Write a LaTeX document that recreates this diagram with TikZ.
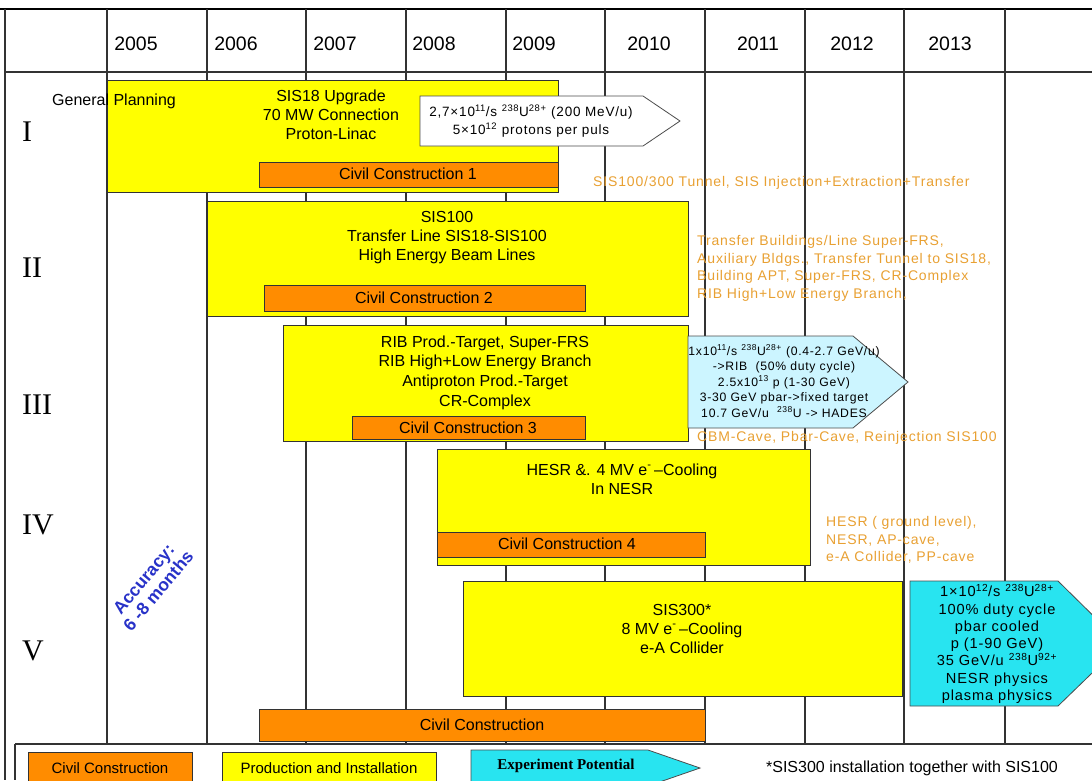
\documentclass[tikz,border=0pt]{standalone}
\usepackage{fontspec}
\setmainfont{Liberation Sans}
\newfontfamily\romanfont{Liberation Serif}
\newfontfamily\trackfont[LetterSpace=6]{Liberation Sans}
\usetikzlibrary{positioning}

\definecolor{barYellow}{RGB}{255,255,0}
\definecolor{barOrange}{RGB}{255,140,0}
\definecolor{noteOrange}{RGB}{232,160,50}
\definecolor{paleCyan}{RGB}{204,245,255}
\definecolor{brightCyan}{RGB}{40,228,240}
\definecolor{accBlue}{RGB}{40,50,200}

\begin{document}
\begin{tikzpicture}[
  x=1pt, y=-1pt,
  gridline/.style = {draw=black!80, line width=1.2pt},
  prodbar/.style = {draw=black!80, fill=barYellow, line width=0.9pt},
  civilbar/.style = {draw=black!80, fill=barOrange, line width=0.9pt},
  potential/.style = {draw=black!70, line width=0.8pt},
  bartext/.style = {font=\fontsize{16}{19}\selectfont, align=center, inner sep=0pt},
  beamtext/.style = {font=\trackfont\fontsize{12.2}{15.5}\selectfont, align=center, inner sep=0pt},
  remark/.style = {font=\trackfont\fontsize{14}{17.7}\selectfont, text=noteOrange, align=left, anchor=west, inner sep=0pt},
  stagenum/.style = {font=\romanfont\fontsize{30}{30}\selectfont, anchor=west, inner sep=0pt},
  yearlbl/.style = {font=\fontsize{19.5}{19.5}\selectfont, inner sep=0pt}
]
\clip (0,0) rectangle (1092,780);

% ======================================================
% Time grid
% ======================================================
\draw[line width=2pt] (0,9) -- (1092,9);
\draw[gridline] (5,9) -- (5,780);
\draw[gridline] (5,72) -- (1092,72);
\foreach \x in {107,207,306,406,506,605,705,805,904,1005}
  \draw[gridline] (\x,9) -- (\x,744);
\draw[gridline] (15,744) -- (1092,744);
\draw[gridline] (15,744) -- (15,780);

\foreach \yr/\x in {2005/136,2006/236,2007/335,2008/434,2009/534,2010/649,2011/758,2012/852,2013/950}
  \node[yearlbl] (year\yr) at (\x,44) {\yr};

% stage numbers
\node[stagenum] (stageI) at (22,132) {I};
\node[stagenum] (stageII) at (22,268) {II};
\node[stagenum] (stageIII) at (22,405) {III};
\node[stagenum] (stageIV) at (22,525) {IV};
\node[stagenum] (stageV) at (22,651) {V};

% ======================================================
% Stage I
% ======================================================
\draw[prodbar] (107,80) rectangle (558,192);
\draw[civilbar] (259,162) rectangle (558,187);
\node[bartext] (cc1) at (408,174) {Civil Construction 1};
\node[bartext] (sis18) at (331,115) {SIS18 Upgrade\\70 MW Connection\\Proton-Linac};
\node[bartext, anchor=west] (planning) at (52,101) {General Planning};

\draw[potential, fill=white] (420,96) -- (643,96) -- (680,121) -- (643,146) -- (420,146) -- cycle;
\node[bartext, font=\trackfont\fontsize{13.5}{18}\selectfont] (beamI) at (531,121)
  {2,7×10\textsuperscript{11}/s \textsuperscript{238}U\textsuperscript{28+} (200 MeV/u)\\5×10\textsuperscript{12} protons per puls};

\node[remark] (civilI) at (593,183) {SIS100/300 Tunnel, SIS Injection+Extraction+Transfer};

% ======================================================
% Stage II
% ======================================================
\draw[prodbar] (207,201) rectangle (688,316);
\draw[civilbar] (264,285) rectangle (585,311);
\node[bartext] (cc2) at (424,298) {Civil Construction 2};
\node[bartext] (sis100) at (447,238) {SIS100\\Transfer Line SIS18-SIS100\\High Energy Beam Lines};

\node[remark] (civilII) at (697,268.5) {Transfer Buildings/Line Super-FRS,\\Auxiliary Bldgs., Transfer Tunnel to SIS18,\\Building APT, Super-FRS, CR-Complex\\RIB High+Low Energy Branch,};

% ======================================================
% Stage III
% ======================================================
\draw[prodbar] (283,325) rectangle (688,441);
\draw[civilbar] (352,416) rectangle (585,439);
\node[bartext] (cc3) at (468,428) {Civil Construction 3};
\node[bartext, font=\fontsize{16}{19.7}\selectfont] (rib) at (485,372.5) {RIB Prod.-Target, Super-FRS\\RIB High+Low Energy Branch\\Antiproton Prod.-Target\\CR-Complex};

\draw[potential, fill=paleCyan] (688,336) -- (853,336) -- (908,382) -- (853,428) -- (688,428) -- cycle;
\node[beamtext] (beamIII) at (784,381)
  {1x10\textsuperscript{11}/s \textsuperscript{238}U\textsuperscript{28+} (0.4-2.7 GeV/u)\\->RIB\ \ (50\% duty cycle)\\2.5x10\textsuperscript{13} p (1-30 GeV)\\3-30 GeV pbar->fixed target\\10.7 GeV/u \ \textsuperscript{238}U -> HADES};

\node[remark] (civilIII) at (697,438) {CBM-Cave, Pbar-Cave, Reinjection SIS100};

% ======================================================
% Stage IV
% ======================================================
\draw[prodbar] (437,449) rectangle (810,565);
\draw[civilbar] (437,532) rectangle (705,557);
\node[bartext] (cc4) at (567,544) {Civil Construction 4};
\node[bartext] (hesr) at (622,479) {HESR \&. 4 MV e\textsuperscript{-}\,--Cooling\\In NESR};

\node[remark] (civilIV) at (826,540) {HESR ( ground level),\\NESR, AP-cave,\\e-A Collider, PP-cave};

% ======================================================
% Stage V
% ======================================================
\draw[prodbar] (463,581) rectangle (902,696);
\node[bartext] (sis300) at (682,628.5) {SIS300*\\8 MV e\textsuperscript{-}\,--Cooling\\e-A Collider};

\draw[potential, fill=brightCyan] (910,581) -- (1058,581) -- (1122,644) -- (1058,706) -- (910,706) -- cycle;
\node[beamtext, font=\trackfont\fontsize{14.6}{17.3}\selectfont] (beamV) at (997,644)
  {1×10\textsuperscript{12}/s \textsuperscript{238}U\textsuperscript{28+}\\100\% duty cycle\\pbar cooled\\p (1-90 GeV)\\35 GeV/u \textsuperscript{238}U\textsuperscript{92+}\\NESR physics\\plasma physics};

\draw[civilbar] (259,709) rectangle (705,741);
\node[bartext] (cc5) at (482,725) {Civil Construction};

% accuracy note
\node[bartext, font=\bfseries\fontsize{17.5}{19}\selectfont, text=accBlue, rotate=50] (accuracy) at (151,585) {Accuracy:\\6 -8 months};

% ======================================================
% Legend
% ======================================================
\draw[civilbar] (28,752) rectangle (192,790);
\node[bartext, font=\fontsize{15}{15}\selectfont] (legcivil) at (110,768) {Civil Construction};
\draw[prodbar] (222,752) rectangle (436,790);
\node[bartext, font=\fontsize{15}{15}\selectfont] (legprod) at (329,768) {Production and Installation};
\draw[potential, fill=brightCyan] (471,750) -- (648,750) -- (700,768) -- (648,786) -- (471,786) -- cycle;
\node[bartext, font=\romanfont\bfseries\fontsize{15}{15}\selectfont] (legexp) at (566,766) {Experiment Potential};
\node[bartext] (legnote) at (912,768) {*SIS300 installation together with SIS100};
\end{tikzpicture}
\end{document}
